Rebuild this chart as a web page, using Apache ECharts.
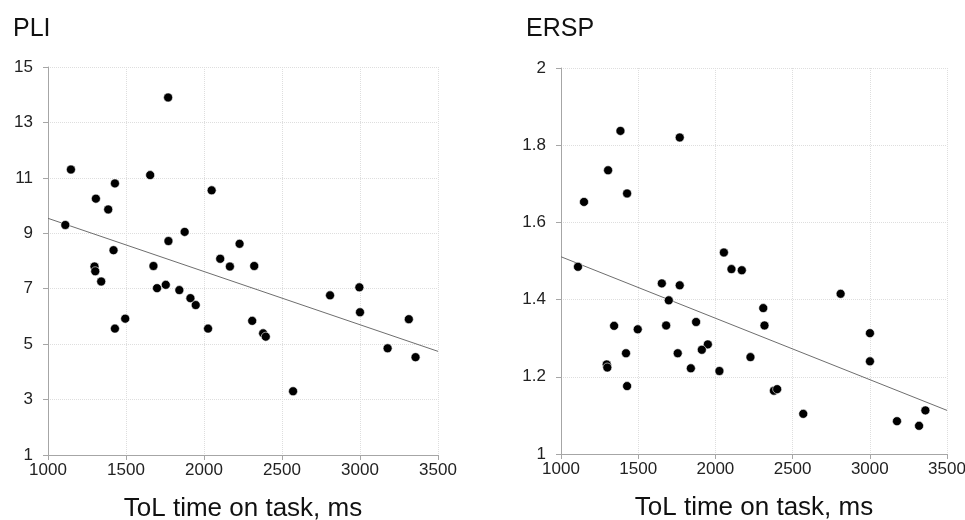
<!DOCTYPE html>
<html>
<head>
<meta charset="utf-8">
<script src="https://cdn.jsdelivr.net/npm/echarts@6/dist/echarts.min.js"></script>
<style>
html,body{margin:0;padding:0;background:#fff;}
#chart{width:965px;height:520px;}
</style>
</head>
<body>
<div id="chart"></div>
<script>
// ---- data ----
var titles = ['PLI', 'ERSP'];
var xAxisName = 'ToL time on task, ms';

var timePLI = [1770,1147,1655,1429,1307,1386,2049,1111,1876,1772,2228,1420,2104,1298,1303,1341,1676,2166,2322,1699,1755,1842,1913,1947,1429,1495,2026,2309,2379,2396,2571,2808,2996,3000,3177,3313,3356];
var valuesPLI = [13.9,11.3,11.1,10.8,10.25,9.86,10.55,9.3,9.05,8.72,8.62,8.39,8.08,7.80,7.63,7.26,7.82,7.80,7.82,7.02,7.14,6.95,6.66,6.41,5.56,5.92,5.56,5.84,5.39,5.27,3.30,6.76,7.05,6.15,4.85,5.90,4.53];

var timeERSP = [1385,1769,1305,1428,1149,2055,1110,2104,2171,1653,1769,1698,2811,2310,2318,1344,1497,1681,1875,3001,1951,1912,1421,1756,2227,3001,1296,1300,1841,2026,1428,2379,2400,2569,3176,3319,3360];
var valuesERSP = [1.837,1.820,1.735,1.675,1.653,1.522,1.485,1.479,1.476,1.442,1.437,1.398,1.415,1.378,1.333,1.332,1.323,1.333,1.342,1.313,1.284,1.270,1.261,1.261,1.251,1.240,1.232,1.224,1.222,1.215,1.176,1.164,1.168,1.104,1.085,1.073,1.113];

// trend line end points (x, y)
var trendX = [1000, 3500];
var trendPLI = [9.54, 4.74];
var trendERSP = [1.511, 1.113];

// axis ranges / ticks
var xRange = [1000, 3500, 500];
var yRangePLI = [1, 15, 2];
var yRangeERSP = [1, 2, 0.2];

function pairs(xs, ys){ return xs.map(function(x,i){ return [x, ys[i]]; }); }

var FONT = 'Liberation Sans, Arial, sans-serif';
var axisLineColor = '#a6a6a6';
var splitColor = '#dedede';

function makeX(gridIndex){
  return {
    type: 'value', gridIndex: gridIndex,
    min: xRange[0], max: xRange[1], interval: xRange[2],
    name: xAxisName, nameLocation: 'middle', nameGap: 41,
    nameTextStyle: {fontFamily: FONT, fontSize: 26, color: '#111'},
    axisLine: {show: true, lineStyle: {color: axisLineColor, width: 1}},
    axisTick: {show: true, length: 5, lineStyle: {color: axisLineColor}},
    axisLabel: {fontFamily: FONT, fontSize: 17, color: '#222', margin: 7,
                formatter: function(v){ return String(v); }},
    splitLine: {show: true, lineStyle: {color: splitColor, type: 'dotted', width: 1}}
  };
}
function makeY(gridIndex, r, fmt){
  return {
    type: 'value', gridIndex: gridIndex,
    min: r[0], max: r[1], interval: r[2],
    axisLine: {show: true, onZero: false, lineStyle: {color: axisLineColor, width: 1}},
    axisTick: {show: true, length: 5, lineStyle: {color: axisLineColor}},
    axisLabel: {fontFamily: FONT, fontSize: 17, color: '#222', margin: 15, formatter: fmt},
    splitLine: {show: true, lineStyle: {color: splitColor, type: 'dotted', width: 1}}
  };
}

var dotStyle = {color: '#000', opacity: 1, borderColor: '#fff', borderWidth: 0.6};

var option = {
  animation: false,
  backgroundColor: '#fff',
  title: [
    {text: titles[0], left: 8, top: 12, textStyle: {fontFamily: FONT, fontSize: 25, fontWeight: 'normal', color: '#111'}},
    {text: titles[1], left: 521, top: 12, textStyle: {fontFamily: FONT, fontSize: 25, fontWeight: 'normal', color: '#111'}}
  ],
  grid: [
    {left: 48, top: 67, width: 390, height: 388, containLabel: false, outerBoundsMode: 'none'},
    {left: 561, top: 68, width: 386, height: 386, containLabel: false, outerBoundsMode: 'none'}
  ],
  xAxis: [makeX(0), makeX(1)],
  yAxis: [
    makeY(0, yRangePLI, function(v){ return String(v); }),
    makeY(1, yRangeERSP, function(v){ return String(Math.round(v*10)/10); })
  ],
  series: [
    {type: 'line', xAxisIndex: 0, yAxisIndex: 0, data: pairs(trendX, trendPLI), symbol: 'none',
     lineStyle: {color: '#6e6e6e', width: 1}, z: 1, silent: true},
    {type: 'scatter', xAxisIndex: 0, yAxisIndex: 0, data: pairs(timePLI, valuesPLI), symbolSize: 9,
     itemStyle: dotStyle, z: 2},
    {type: 'line', xAxisIndex: 1, yAxisIndex: 1, data: pairs(trendX, trendERSP), symbol: 'none',
     lineStyle: {color: '#6e6e6e', width: 1}, z: 1, silent: true},
    {type: 'scatter', xAxisIndex: 1, yAxisIndex: 1, data: pairs(timeERSP, valuesERSP), symbolSize: 9,
     itemStyle: dotStyle, z: 2}
  ]
};

var chart = echarts.init(document.getElementById('chart'), null, {renderer: 'canvas'});
chart.setOption(option);
</script>
</body>
</html>
